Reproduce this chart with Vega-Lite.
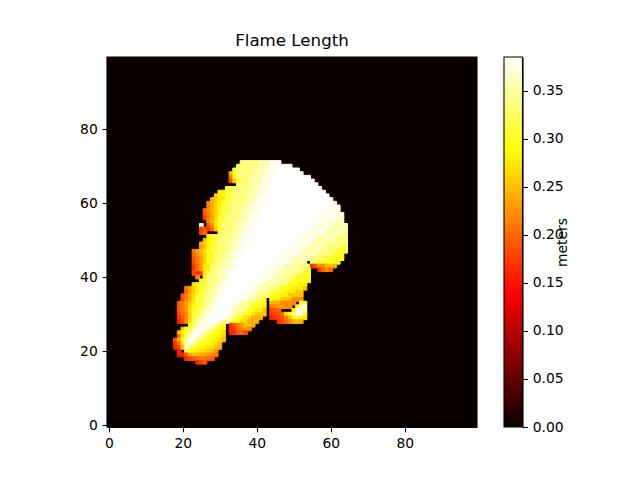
{"$schema":"https://vega.github.io/schema/vega-lite/v6.json","padding":{"left":79,"top":32,"right":0,"bottom":0},"background":"white","config":{"font":"DejaVu Sans","view":{"stroke":null},"axis":{"grid":false,"labelFontSize":13.89,"labelColor":"black","tickColor":"black","domainColor":"black","tickSize":4.86,"tickWidth":1.1,"domainWidth":1.1,"labelPadding":4.86,"titleColor":"black","titleFontWeight":"normal","titleFontSize":13.89}},"spacing":25,"hconcat":[{"width":370,"height":370,"title":{"text":"Flame Length","fontSize":16.67,"fontWeight":"normal","color":"black","offset":7},"layer":[{"data":{"values":[{"x":-0.5,"x2":99.5,"y":-0.5,"y2":99.5,"v":0}]},"mark":{"type":"rect"},"encoding":{"x":{"field":"x","type":"quantitative","scale":{"domain":[-0.5,99.5],"nice":false,"zero":false},"axis":{"values":[0,20,40,60,80],"title":null,"orient":"bottom"}},"x2":{"field":"x2"},"y":{"field":"y","type":"quantitative","scale":{"domain":[-0.5,99.5],"nice":false,"zero":false},"axis":{"values":[0,20,40,60,80],"title":null}},"y2":{"field":"y2"},"fill":{"field":"v","type":"quantitative","scale":{"domain":[0,0.1405,0.287,0.385],"range":["#0b0000","#ff0000","#ffff00","#ffffff"],"interpolate":"rgb"},"legend":null}}},{"data":{"values":[
{"x":35.5,"x2":40.5,"y":71,"v":0.335},{"x":40.5,"x2":43.5,"y":71,"v":0.355},{"x":43.5,"x2":46.5,"y":71,"v":0.375},
{"x":34.5,"x2":35.5,"y":70,"v":0.32},{"x":35.5,"x2":40.5,"y":70,"v":0.335},{"x":40.5,"x2":43.5,"y":70,"v":0.355},{"x":43.5,"x2":46.5,"y":70,"v":0.375},{"x":46.5,"x2":49.5,"y":70,"v":0.385},
{"x":33.5,"x2":34.5,"y":69,"v":0.31},{"x":34.5,"x2":39.5,"y":69,"v":0.335},{"x":39.5,"x2":42.5,"y":69,"v":0.355},{"x":42.5,"x2":45.5,"y":69,"v":0.375},{"x":45.5,"x2":51.5,"y":69,"v":0.385},
{"x":32.5,"x2":33.5,"y":68,"v":0.24},{"x":33.5,"x2":34.5,"y":68,"v":0.29},{"x":34.5,"x2":39.5,"y":68,"v":0.335},{"x":39.5,"x2":42.5,"y":68,"v":0.355},{"x":42.5,"x2":45.5,"y":68,"v":0.375},{"x":45.5,"x2":52.5,"y":68,"v":0.385},
{"x":32.5,"x2":33.5,"y":67,"v":0.21},{"x":33.5,"x2":34.5,"y":67,"v":0.28},{"x":34.5,"x2":38.5,"y":67,"v":0.335},{"x":38.5,"x2":41.5,"y":67,"v":0.355},{"x":41.5,"x2":44.5,"y":67,"v":0.375},{"x":44.5,"x2":54.5,"y":67,"v":0.385},
{"x":32.5,"x2":33.5,"y":66,"v":0.18},{"x":33.5,"x2":34.5,"y":66,"v":0.26},{"x":34.5,"x2":35.5,"y":66,"v":0.3},{"x":35.5,"x2":38.5,"y":66,"v":0.335},{"x":38.5,"x2":41.5,"y":66,"v":0.355},{"x":41.5,"x2":44.5,"y":66,"v":0.375},{"x":44.5,"x2":55.5,"y":66,"v":0.385},
{"x":34.5,"x2":38.5,"y":65,"v":0.335},{"x":38.5,"x2":41.5,"y":65,"v":0.355},{"x":41.5,"x2":43.5,"y":65,"v":0.375},{"x":43.5,"x2":56.5,"y":65,"v":0.385},
{"x":31.5,"x2":33.5,"y":64,"v":0.31},{"x":33.5,"x2":38.5,"y":64,"v":0.335},{"x":38.5,"x2":40.5,"y":64,"v":0.355},{"x":40.5,"x2":43.5,"y":64,"v":0.375},{"x":43.5,"x2":57.5,"y":64,"v":0.385},
{"x":29.5,"x2":31.5,"y":63,"v":0.28},{"x":31.5,"x2":33.5,"y":63,"v":0.31},{"x":33.5,"x2":37.5,"y":63,"v":0.335},{"x":37.5,"x2":40.5,"y":63,"v":0.355},{"x":40.5,"x2":43.5,"y":63,"v":0.375},{"x":43.5,"x2":58.5,"y":63,"v":0.385},
{"x":28.5,"x2":29.5,"y":62,"v":0.26},{"x":29.5,"x2":31.5,"y":62,"v":0.28},{"x":31.5,"x2":33.5,"y":62,"v":0.31},{"x":33.5,"x2":37.5,"y":62,"v":0.335},{"x":37.5,"x2":40.5,"y":62,"v":0.355},{"x":40.5,"x2":42.5,"y":62,"v":0.375},{"x":42.5,"x2":59.5,"y":62,"v":0.385},
{"x":27.5,"x2":28.5,"y":61,"v":0.24},{"x":28.5,"x2":29.5,"y":61,"v":0.26},{"x":29.5,"x2":31.5,"y":61,"v":0.28},{"x":31.5,"x2":33.5,"y":61,"v":0.31},{"x":33.5,"x2":37.5,"y":61,"v":0.335},{"x":37.5,"x2":39.5,"y":61,"v":0.355},{"x":39.5,"x2":42.5,"y":61,"v":0.375},{"x":42.5,"x2":60.5,"y":61,"v":0.385},
{"x":26.5,"x2":27.5,"y":60,"v":0.22},{"x":27.5,"x2":28.5,"y":60,"v":0.24},{"x":28.5,"x2":29.5,"y":60,"v":0.26},{"x":29.5,"x2":30.5,"y":60,"v":0.28},{"x":30.5,"x2":32.5,"y":60,"v":0.31},{"x":32.5,"x2":36.5,"y":60,"v":0.335},{"x":36.5,"x2":39.5,"y":60,"v":0.355},{"x":39.5,"x2":41.5,"y":60,"v":0.375},{"x":41.5,"x2":61.5,"y":60,"v":0.385},
{"x":26.5,"x2":27.5,"y":59,"v":0.21},{"x":27.5,"x2":28.5,"y":59,"v":0.24},{"x":28.5,"x2":29.5,"y":59,"v":0.26},{"x":29.5,"x2":30.5,"y":59,"v":0.28},{"x":30.5,"x2":32.5,"y":59,"v":0.31},{"x":32.5,"x2":36.5,"y":59,"v":0.335},{"x":36.5,"x2":38.5,"y":59,"v":0.355},{"x":38.5,"x2":41.5,"y":59,"v":0.375},{"x":41.5,"x2":60.5,"y":59,"v":0.385},{"x":60.5,"x2":62.5,"y":59,"v":0.375},
{"x":25.5,"x2":26.5,"y":58,"v":0.2},{"x":26.5,"x2":27.5,"y":58,"v":0.22},{"x":27.5,"x2":28.5,"y":58,"v":0.24},{"x":28.5,"x2":29.5,"y":58,"v":0.26},{"x":29.5,"x2":30.5,"y":58,"v":0.28},{"x":30.5,"x2":32.5,"y":58,"v":0.31},{"x":32.5,"x2":35.5,"y":58,"v":0.335},{"x":35.5,"x2":38.5,"y":58,"v":0.355},{"x":38.5,"x2":40.5,"y":58,"v":0.375},{"x":40.5,"x2":59.5,"y":58,"v":0.385},{"x":59.5,"x2":62.5,"y":58,"v":0.375},
{"x":25.5,"x2":26.5,"y":57,"v":0.19},{"x":26.5,"x2":27.5,"y":57,"v":0.21},{"x":27.5,"x2":28.5,"y":57,"v":0.24},{"x":28.5,"x2":29.5,"y":57,"v":0.26},{"x":29.5,"x2":30.5,"y":57,"v":0.28},{"x":30.5,"x2":31.5,"y":57,"v":0.31},{"x":31.5,"x2":35.5,"y":57,"v":0.335},{"x":35.5,"x2":37.5,"y":57,"v":0.355},{"x":37.5,"x2":40.5,"y":57,"v":0.375},{"x":40.5,"x2":58.5,"y":57,"v":0.385},{"x":58.5,"x2":63.5,"y":57,"v":0.375},
{"x":25.5,"x2":26.5,"y":56,"v":0.18},{"x":26.5,"x2":27.5,"y":56,"v":0.21},{"x":27.5,"x2":28.5,"y":56,"v":0.23},{"x":28.5,"x2":29.5,"y":56,"v":0.26},{"x":29.5,"x2":31.5,"y":56,"v":0.31},{"x":31.5,"x2":35.5,"y":56,"v":0.335},{"x":35.5,"x2":37.5,"y":56,"v":0.355},{"x":37.5,"x2":40.5,"y":56,"v":0.375},{"x":40.5,"x2":57.5,"y":56,"v":0.385},{"x":57.5,"x2":62.5,"y":56,"v":0.375},{"x":62.5,"x2":63.5,"y":56,"v":0.355},
{"x":26.5,"x2":27.5,"y":55,"v":0.22},{"x":27.5,"x2":28.5,"y":55,"v":0.24},{"x":28.5,"x2":29.5,"y":55,"v":0.27},{"x":29.5,"x2":31.5,"y":55,"v":0.31},{"x":31.5,"x2":34.5,"y":55,"v":0.335},{"x":34.5,"x2":37.5,"y":55,"v":0.355},{"x":37.5,"x2":39.5,"y":55,"v":0.375},{"x":39.5,"x2":56.5,"y":55,"v":0.385},{"x":56.5,"x2":61.5,"y":55,"v":0.375},{"x":61.5,"x2":63.5,"y":55,"v":0.355},
{"x":24.5,"x2":25.5,"y":54,"v":0.38},{"x":26.5,"x2":27.5,"y":54,"v":0.19},{"x":27.5,"x2":28.5,"y":54,"v":0.22},{"x":28.5,"x2":29.5,"y":54,"v":0.27},{"x":29.5,"x2":30.5,"y":54,"v":0.29},{"x":30.5,"x2":34.5,"y":54,"v":0.335},{"x":34.5,"x2":36.5,"y":54,"v":0.355},{"x":36.5,"x2":39.5,"y":54,"v":0.375},{"x":39.5,"x2":55.5,"y":54,"v":0.385},{"x":55.5,"x2":60.5,"y":54,"v":0.375},{"x":60.5,"x2":64.5,"y":54,"v":0.355},
{"x":24.5,"x2":25.5,"y":53,"v":0.17},{"x":25.5,"x2":26.5,"y":53,"v":0.19},{"x":26.5,"x2":27.5,"y":53,"v":0.17},{"x":27.5,"x2":28.5,"y":53,"v":0.2},{"x":28.5,"x2":29.5,"y":53,"v":0.26},{"x":29.5,"x2":30.5,"y":53,"v":0.29},{"x":30.5,"x2":34.5,"y":53,"v":0.335},{"x":34.5,"x2":36.5,"y":53,"v":0.355},{"x":36.5,"x2":38.5,"y":53,"v":0.375},{"x":38.5,"x2":54.5,"y":53,"v":0.385},{"x":54.5,"x2":59.5,"y":53,"v":0.375},{"x":59.5,"x2":64.5,"y":53,"v":0.355},
{"x":24.5,"x2":25.5,"y":52,"v":0.18},{"x":25.5,"x2":26.5,"y":52,"v":0.2},{"x":29.5,"x2":30.5,"y":52,"v":0.31},{"x":30.5,"x2":33.5,"y":52,"v":0.335},{"x":33.5,"x2":35.5,"y":52,"v":0.355},{"x":35.5,"x2":38.5,"y":52,"v":0.375},{"x":38.5,"x2":53.5,"y":52,"v":0.385},{"x":53.5,"x2":58.5,"y":52,"v":0.375},{"x":58.5,"x2":63.5,"y":52,"v":0.355},{"x":63.5,"x2":64.5,"y":52,"v":0.335},
{"x":26.5,"x2":27.5,"y":51,"v":0.29},{"x":27.5,"x2":28.5,"y":51,"v":0.3},{"x":28.5,"x2":30.5,"y":51,"v":0.32},{"x":30.5,"x2":33.5,"y":51,"v":0.335},{"x":33.5,"x2":35.5,"y":51,"v":0.355},{"x":35.5,"x2":37.5,"y":51,"v":0.375},{"x":37.5,"x2":52.5,"y":51,"v":0.385},{"x":52.5,"x2":56.5,"y":51,"v":0.375},{"x":56.5,"x2":62.5,"y":51,"v":0.355},{"x":62.5,"x2":64.5,"y":51,"v":0.335},
{"x":25.5,"x2":26.5,"y":50,"v":0.25},{"x":26.5,"x2":27.5,"y":50,"v":0.28},{"x":27.5,"x2":28.5,"y":50,"v":0.29},{"x":28.5,"x2":29.5,"y":50,"v":0.31},{"x":29.5,"x2":32.5,"y":50,"v":0.335},{"x":32.5,"x2":35.5,"y":50,"v":0.355},{"x":35.5,"x2":37.5,"y":50,"v":0.375},{"x":37.5,"x2":51.5,"y":50,"v":0.385},{"x":51.5,"x2":55.5,"y":50,"v":0.375},{"x":55.5,"x2":61.5,"y":50,"v":0.355},{"x":61.5,"x2":64.5,"y":50,"v":0.335},
{"x":24.5,"x2":25.5,"y":49,"v":0.24},{"x":25.5,"x2":26.5,"y":49,"v":0.26},{"x":26.5,"x2":27.5,"y":49,"v":0.28},{"x":27.5,"x2":29.5,"y":49,"v":0.31},{"x":29.5,"x2":32.5,"y":49,"v":0.335},{"x":32.5,"x2":34.5,"y":49,"v":0.355},{"x":34.5,"x2":36.5,"y":49,"v":0.375},{"x":36.5,"x2":50.5,"y":49,"v":0.385},{"x":50.5,"x2":54.5,"y":49,"v":0.375},{"x":54.5,"x2":59.5,"y":49,"v":0.355},{"x":59.5,"x2":64.5,"y":49,"v":0.335},
{"x":24.5,"x2":25.5,"y":48,"v":0.23},{"x":25.5,"x2":26.5,"y":48,"v":0.25},{"x":26.5,"x2":27.5,"y":48,"v":0.28},{"x":27.5,"x2":29.5,"y":48,"v":0.31},{"x":29.5,"x2":32.5,"y":48,"v":0.335},{"x":32.5,"x2":34.5,"y":48,"v":0.355},{"x":34.5,"x2":36.5,"y":48,"v":0.375},{"x":36.5,"x2":49.5,"y":48,"v":0.385},{"x":49.5,"x2":53.5,"y":48,"v":0.375},{"x":53.5,"x2":58.5,"y":48,"v":0.355},{"x":58.5,"x2":62.5,"y":48,"v":0.335},{"x":62.5,"x2":64.5,"y":48,"v":0.31},
{"x":22.5,"x2":23.5,"y":47,"v":0.21},{"x":23.5,"x2":24.5,"y":47,"v":0.23},{"x":24.5,"x2":25.5,"y":47,"v":0.25},{"x":25.5,"x2":26.5,"y":47,"v":0.27},{"x":26.5,"x2":27.5,"y":47,"v":0.29},{"x":27.5,"x2":29.5,"y":47,"v":0.31},{"x":29.5,"x2":32.5,"y":47,"v":0.335},{"x":32.5,"x2":34.5,"y":47,"v":0.355},{"x":34.5,"x2":36.5,"y":47,"v":0.375},{"x":36.5,"x2":48.5,"y":47,"v":0.385},{"x":48.5,"x2":52.5,"y":47,"v":0.375},{"x":52.5,"x2":57.5,"y":47,"v":0.355},{"x":57.5,"x2":61.5,"y":47,"v":0.335},{"x":61.5,"x2":64.5,"y":47,"v":0.31},
{"x":22.5,"x2":23.5,"y":46,"v":0.2},{"x":23.5,"x2":24.5,"y":46,"v":0.22},{"x":24.5,"x2":25.5,"y":46,"v":0.24},{"x":25.5,"x2":26.5,"y":46,"v":0.26},{"x":26.5,"x2":28.5,"y":46,"v":0.3},{"x":28.5,"x2":31.5,"y":46,"v":0.335},{"x":31.5,"x2":33.5,"y":46,"v":0.355},{"x":33.5,"x2":35.5,"y":46,"v":0.375},{"x":35.5,"x2":47.5,"y":46,"v":0.385},{"x":47.5,"x2":51.5,"y":46,"v":0.375},{"x":51.5,"x2":56.5,"y":46,"v":0.355},{"x":56.5,"x2":60.5,"y":46,"v":0.335},{"x":60.5,"x2":63.5,"y":46,"v":0.3},
{"x":22.5,"x2":23.5,"y":45,"v":0.19},{"x":23.5,"x2":24.5,"y":45,"v":0.21},{"x":24.5,"x2":25.5,"y":45,"v":0.23},{"x":25.5,"x2":26.5,"y":45,"v":0.26},{"x":26.5,"x2":28.5,"y":45,"v":0.3},{"x":28.5,"x2":31.5,"y":45,"v":0.335},{"x":31.5,"x2":33.5,"y":45,"v":0.355},{"x":33.5,"x2":35.5,"y":45,"v":0.375},{"x":35.5,"x2":46.5,"y":45,"v":0.385},{"x":46.5,"x2":50.5,"y":45,"v":0.375},{"x":50.5,"x2":54.5,"y":45,"v":0.355},{"x":54.5,"x2":58.5,"y":45,"v":0.335},{"x":58.5,"x2":63.5,"y":45,"v":0.3},
{"x":22.5,"x2":23.5,"y":44,"v":0.18},{"x":23.5,"x2":24.5,"y":44,"v":0.21},{"x":24.5,"x2":25.5,"y":44,"v":0.23},{"x":25.5,"x2":26.5,"y":44,"v":0.26},{"x":26.5,"x2":28.5,"y":44,"v":0.3},{"x":28.5,"x2":30.5,"y":44,"v":0.335},{"x":30.5,"x2":32.5,"y":44,"v":0.355},{"x":32.5,"x2":34.5,"y":44,"v":0.375},{"x":34.5,"x2":45.5,"y":44,"v":0.385},{"x":45.5,"x2":49.5,"y":44,"v":0.375},{"x":49.5,"x2":53.5,"y":44,"v":0.355},{"x":54.5,"x2":56.5,"y":44,"v":0.335},{"x":56.5,"x2":61.5,"y":44,"v":0.3},{"x":61.5,"x2":62.5,"y":44,"v":0.28},
{"x":22.5,"x2":23.5,"y":43,"v":0.17},{"x":23.5,"x2":24.5,"y":43,"v":0.2},{"x":24.5,"x2":25.5,"y":43,"v":0.23},{"x":25.5,"x2":27.5,"y":43,"v":0.28},{"x":27.5,"x2":30.5,"y":43,"v":0.335},{"x":30.5,"x2":32.5,"y":43,"v":0.355},{"x":32.5,"x2":34.5,"y":43,"v":0.375},{"x":34.5,"x2":44.5,"y":43,"v":0.385},{"x":44.5,"x2":47.5,"y":43,"v":0.375},{"x":47.5,"x2":51.5,"y":43,"v":0.355},{"x":51.5,"x2":54.5,"y":43,"v":0.335},{"x":54.5,"x2":55.5,"y":43,"v":0.17},{"x":55.5,"x2":56.5,"y":43,"v":0.19},{"x":56.5,"x2":58.5,"y":43,"v":0.22},{"x":58.5,"x2":60.5,"y":43,"v":0.25},{"x":60.5,"x2":61.5,"y":43,"v":0.24},
{"x":22.5,"x2":23.5,"y":42,"v":0.17},{"x":23.5,"x2":24.5,"y":42,"v":0.2},{"x":24.5,"x2":25.5,"y":42,"v":0.23},{"x":25.5,"x2":27.5,"y":42,"v":0.28},{"x":27.5,"x2":29.5,"y":42,"v":0.335},{"x":29.5,"x2":31.5,"y":42,"v":0.355},{"x":31.5,"x2":33.5,"y":42,"v":0.375},{"x":33.5,"x2":43.5,"y":42,"v":0.385},{"x":43.5,"x2":46.5,"y":42,"v":0.375},{"x":46.5,"x2":50.5,"y":42,"v":0.355},{"x":50.5,"x2":53.5,"y":42,"v":0.335},{"x":53.5,"x2":54.5,"y":42,"v":0.3},{"x":56.5,"x2":57.5,"y":42,"v":0.17},{"x":57.5,"x2":58.5,"y":42,"v":0.2},{"x":58.5,"x2":59.5,"y":42,"v":0.22},{"x":59.5,"x2":60.5,"y":42,"v":0.2},
{"x":22.5,"x2":23.5,"y":41,"v":0.18},{"x":23.5,"x2":25.5,"y":41,"v":0.17},{"x":25.5,"x2":26.5,"y":41,"v":0.28},{"x":26.5,"x2":27.5,"y":41,"v":0.31},{"x":27.5,"x2":29.5,"y":41,"v":0.335},{"x":29.5,"x2":31.5,"y":41,"v":0.355},{"x":31.5,"x2":33.5,"y":41,"v":0.375},{"x":33.5,"x2":42.5,"y":41,"v":0.385},{"x":42.5,"x2":45.5,"y":41,"v":0.375},{"x":45.5,"x2":49.5,"y":41,"v":0.355},{"x":49.5,"x2":52.5,"y":41,"v":0.335},{"x":52.5,"x2":54.5,"y":41,"v":0.3},
{"x":23.5,"x2":24.5,"y":40,"v":0.22},{"x":25.5,"x2":26.5,"y":40,"v":0.28},{"x":26.5,"x2":29.5,"y":40,"v":0.335},{"x":29.5,"x2":31.5,"y":40,"v":0.355},{"x":31.5,"x2":33.5,"y":40,"v":0.375},{"x":33.5,"x2":41.5,"y":40,"v":0.385},{"x":41.5,"x2":44.5,"y":40,"v":0.375},{"x":44.5,"x2":47.5,"y":40,"v":0.355},{"x":47.5,"x2":50.5,"y":40,"v":0.335},{"x":50.5,"x2":54.5,"y":40,"v":0.3},
{"x":24.5,"x2":25.5,"y":39,"v":0.29},{"x":25.5,"x2":26.5,"y":39,"v":0.31},{"x":26.5,"x2":29.5,"y":39,"v":0.335},{"x":29.5,"x2":30.5,"y":39,"v":0.355},{"x":30.5,"x2":32.5,"y":39,"v":0.375},{"x":32.5,"x2":40.5,"y":39,"v":0.385},{"x":40.5,"x2":43.5,"y":39,"v":0.375},{"x":43.5,"x2":46.5,"y":39,"v":0.355},{"x":46.5,"x2":49.5,"y":39,"v":0.335},{"x":49.5,"x2":53.5,"y":39,"v":0.3},{"x":53.5,"x2":54.5,"y":39,"v":0.28},
{"x":22.5,"x2":23.5,"y":38,"v":0.27},{"x":23.5,"x2":24.5,"y":38,"v":0.29},{"x":24.5,"x2":26.5,"y":38,"v":0.31},{"x":26.5,"x2":28.5,"y":38,"v":0.335},{"x":28.5,"x2":30.5,"y":38,"v":0.355},{"x":30.5,"x2":32.5,"y":38,"v":0.375},{"x":32.5,"x2":39.5,"y":38,"v":0.385},{"x":39.5,"x2":41.5,"y":38,"v":0.375},{"x":41.5,"x2":45.5,"y":38,"v":0.355},{"x":45.5,"x2":48.5,"y":38,"v":0.335},{"x":48.5,"x2":51.5,"y":38,"v":0.3},{"x":51.5,"x2":53.5,"y":38,"v":0.28},
{"x":20.5,"x2":21.5,"y":37,"v":0.21},{"x":21.5,"x2":22.5,"y":37,"v":0.23},{"x":22.5,"x2":23.5,"y":37,"v":0.26},{"x":23.5,"x2":24.5,"y":37,"v":0.28},{"x":24.5,"x2":26.5,"y":37,"v":0.31},{"x":26.5,"x2":28.5,"y":37,"v":0.335},{"x":28.5,"x2":29.5,"y":37,"v":0.355},{"x":29.5,"x2":31.5,"y":37,"v":0.375},{"x":31.5,"x2":38.5,"y":37,"v":0.385},{"x":38.5,"x2":40.5,"y":37,"v":0.375},{"x":40.5,"x2":43.5,"y":37,"v":0.355},{"x":43.5,"x2":46.5,"y":37,"v":0.335},{"x":46.5,"x2":49.5,"y":37,"v":0.3},{"x":49.5,"x2":52.5,"y":37,"v":0.28},{"x":52.5,"x2":53.5,"y":37,"v":0.255},
{"x":20.5,"x2":21.5,"y":36,"v":0.2},{"x":21.5,"x2":22.5,"y":36,"v":0.23},{"x":22.5,"x2":23.5,"y":36,"v":0.26},{"x":23.5,"x2":24.5,"y":36,"v":0.28},{"x":24.5,"x2":26.5,"y":36,"v":0.31},{"x":26.5,"x2":27.5,"y":36,"v":0.335},{"x":27.5,"x2":29.5,"y":36,"v":0.355},{"x":29.5,"x2":31.5,"y":36,"v":0.375},{"x":31.5,"x2":37.5,"y":36,"v":0.385},{"x":37.5,"x2":39.5,"y":36,"v":0.375},{"x":39.5,"x2":42.5,"y":36,"v":0.355},{"x":42.5,"x2":44.5,"y":36,"v":0.335},{"x":44.5,"x2":47.5,"y":36,"v":0.3},{"x":47.5,"x2":50.5,"y":36,"v":0.28},{"x":50.5,"x2":52.5,"y":36,"v":0.255},
{"x":19.5,"x2":20.5,"y":35,"v":0.19},{"x":20.5,"x2":21.5,"y":35,"v":0.21},{"x":21.5,"x2":22.5,"y":35,"v":0.24},{"x":22.5,"x2":23.5,"y":35,"v":0.27},{"x":23.5,"x2":25.5,"y":35,"v":0.31},{"x":25.5,"x2":27.5,"y":35,"v":0.335},{"x":27.5,"x2":29.5,"y":35,"v":0.355},{"x":29.5,"x2":30.5,"y":35,"v":0.375},{"x":30.5,"x2":36.5,"y":35,"v":0.385},{"x":36.5,"x2":38.5,"y":35,"v":0.375},{"x":38.5,"x2":40.5,"y":35,"v":0.355},{"x":40.5,"x2":43.5,"y":35,"v":0.335},{"x":43.5,"x2":46.5,"y":35,"v":0.3},{"x":46.5,"x2":48.5,"y":35,"v":0.28},{"x":48.5,"x2":52.5,"y":35,"v":0.255},
{"x":19.5,"x2":20.5,"y":34,"v":0.18},{"x":20.5,"x2":21.5,"y":34,"v":0.21},{"x":21.5,"x2":22.5,"y":34,"v":0.24},{"x":22.5,"x2":23.5,"y":34,"v":0.27},{"x":23.5,"x2":25.5,"y":34,"v":0.31},{"x":25.5,"x2":27.5,"y":34,"v":0.335},{"x":27.5,"x2":28.5,"y":34,"v":0.355},{"x":28.5,"x2":30.5,"y":34,"v":0.375},{"x":30.5,"x2":35.5,"y":34,"v":0.385},{"x":35.5,"x2":37.5,"y":34,"v":0.375},{"x":37.5,"x2":39.5,"y":34,"v":0.355},{"x":39.5,"x2":41.5,"y":34,"v":0.335},{"x":41.5,"x2":42.5,"y":34,"v":0.3},{"x":43.5,"x2":44.5,"y":34,"v":0.3},{"x":44.5,"x2":46.5,"y":34,"v":0.28},{"x":46.5,"x2":49.5,"y":34,"v":0.255},{"x":49.5,"x2":52.5,"y":34,"v":0.22},
{"x":18.5,"x2":19.5,"y":33,"v":0.19},{"x":19.5,"x2":20.5,"y":33,"v":0.21},{"x":20.5,"x2":21.5,"y":33,"v":0.23},{"x":21.5,"x2":22.5,"y":33,"v":0.25},{"x":22.5,"x2":23.5,"y":33,"v":0.28},{"x":23.5,"x2":25.5,"y":33,"v":0.31},{"x":25.5,"x2":26.5,"y":33,"v":0.335},{"x":26.5,"x2":28.5,"y":33,"v":0.355},{"x":28.5,"x2":29.5,"y":33,"v":0.375},{"x":29.5,"x2":34.5,"y":33,"v":0.385},{"x":34.5,"x2":35.5,"y":33,"v":0.375},{"x":35.5,"x2":37.5,"y":33,"v":0.355},{"x":37.5,"x2":39.5,"y":33,"v":0.335},{"x":39.5,"x2":42.5,"y":33,"v":0.3},{"x":43.5,"x2":44.5,"y":33,"v":0.25},{"x":44.5,"x2":46.5,"y":33,"v":0.24},{"x":46.5,"x2":50.5,"y":33,"v":0.22},{"x":51.5,"x2":53.5,"y":33,"v":0.3},
{"x":18.5,"x2":19.5,"y":32,"v":0.19},{"x":19.5,"x2":20.5,"y":32,"v":0.21},{"x":20.5,"x2":21.5,"y":32,"v":0.23},{"x":21.5,"x2":22.5,"y":32,"v":0.26},{"x":22.5,"x2":23.5,"y":32,"v":0.29},{"x":23.5,"x2":25.5,"y":32,"v":0.31},{"x":25.5,"x2":26.5,"y":32,"v":0.335},{"x":26.5,"x2":27.5,"y":32,"v":0.355},{"x":27.5,"x2":29.5,"y":32,"v":0.375},{"x":29.5,"x2":33.5,"y":32,"v":0.385},{"x":33.5,"x2":34.5,"y":32,"v":0.375},{"x":34.5,"x2":36.5,"y":32,"v":0.355},{"x":36.5,"x2":38.5,"y":32,"v":0.335},{"x":38.5,"x2":41.5,"y":32,"v":0.3},{"x":41.5,"x2":42.5,"y":32,"v":0.28},{"x":43.5,"x2":44.5,"y":32,"v":0.21},{"x":44.5,"x2":45.5,"y":32,"v":0.22},{"x":45.5,"x2":47.5,"y":32,"v":0.23},{"x":47.5,"x2":49.5,"y":32,"v":0.22},{"x":50.5,"x2":51.5,"y":32,"v":0.3},{"x":51.5,"x2":53.5,"y":32,"v":0.36},
{"x":18.5,"x2":19.5,"y":31,"v":0.19},{"x":19.5,"x2":20.5,"y":31,"v":0.21},{"x":20.5,"x2":21.5,"y":31,"v":0.23},{"x":21.5,"x2":22.5,"y":31,"v":0.27},{"x":22.5,"x2":24.5,"y":31,"v":0.31},{"x":24.5,"x2":25.5,"y":31,"v":0.335},{"x":25.5,"x2":27.5,"y":31,"v":0.355},{"x":27.5,"x2":28.5,"y":31,"v":0.375},{"x":28.5,"x2":32.5,"y":31,"v":0.385},{"x":32.5,"x2":33.5,"y":31,"v":0.375},{"x":33.5,"x2":35.5,"y":31,"v":0.355},{"x":35.5,"x2":37.5,"y":31,"v":0.335},{"x":37.5,"x2":39.5,"y":31,"v":0.3},{"x":39.5,"x2":41.5,"y":31,"v":0.28},{"x":41.5,"x2":42.5,"y":31,"v":0.255},{"x":43.5,"x2":44.5,"y":31,"v":0.18},{"x":44.5,"x2":45.5,"y":31,"v":0.19},{"x":45.5,"x2":46.5,"y":31,"v":0.2},{"x":49.5,"x2":50.5,"y":31,"v":0.28},{"x":50.5,"x2":53.5,"y":31,"v":0.37},
{"x":18.5,"x2":19.5,"y":30,"v":0.18},{"x":19.5,"x2":20.5,"y":30,"v":0.2},{"x":20.5,"x2":21.5,"y":30,"v":0.22},{"x":21.5,"x2":22.5,"y":30,"v":0.26},{"x":22.5,"x2":24.5,"y":30,"v":0.31},{"x":24.5,"x2":25.5,"y":30,"v":0.335},{"x":25.5,"x2":26.5,"y":30,"v":0.355},{"x":26.5,"x2":28.5,"y":30,"v":0.375},{"x":28.5,"x2":31.5,"y":30,"v":0.385},{"x":31.5,"x2":33.5,"y":30,"v":0.375},{"x":33.5,"x2":34.5,"y":30,"v":0.355},{"x":34.5,"x2":36.5,"y":30,"v":0.335},{"x":36.5,"x2":38.5,"y":30,"v":0.3},{"x":38.5,"x2":39.5,"y":30,"v":0.28},{"x":39.5,"x2":42.5,"y":30,"v":0.255},{"x":43.5,"x2":44.5,"y":30,"v":0.17},{"x":44.5,"x2":45.5,"y":30,"v":0.18},{"x":45.5,"x2":46.5,"y":30,"v":0.19},{"x":46.5,"x2":47.5,"y":30,"v":0.2},{"x":47.5,"x2":48.5,"y":30,"v":0.27},{"x":48.5,"x2":49.5,"y":30,"v":0.3},{"x":49.5,"x2":50.5,"y":30,"v":0.34},{"x":50.5,"x2":52.5,"y":30,"v":0.38},{"x":52.5,"x2":53.5,"y":30,"v":0.3},
{"x":18.5,"x2":19.5,"y":29,"v":0.17},{"x":19.5,"x2":20.5,"y":29,"v":0.19},{"x":20.5,"x2":21.5,"y":29,"v":0.22},{"x":21.5,"x2":22.5,"y":29,"v":0.26},{"x":22.5,"x2":23.5,"y":29,"v":0.31},{"x":23.5,"x2":24.5,"y":29,"v":0.335},{"x":24.5,"x2":25.5,"y":29,"v":0.355},{"x":25.5,"x2":27.5,"y":29,"v":0.375},{"x":27.5,"x2":30.5,"y":29,"v":0.385},{"x":30.5,"x2":32.5,"y":29,"v":0.375},{"x":32.5,"x2":33.5,"y":29,"v":0.355},{"x":33.5,"x2":34.5,"y":29,"v":0.335},{"x":34.5,"x2":36.5,"y":29,"v":0.3},{"x":36.5,"x2":38.5,"y":29,"v":0.27},{"x":38.5,"x2":41.5,"y":29,"v":0.24},{"x":43.5,"x2":44.5,"y":29,"v":0.16},{"x":44.5,"x2":45.5,"y":29,"v":0.17},{"x":45.5,"x2":46.5,"y":29,"v":0.18},{"x":46.5,"x2":47.5,"y":29,"v":0.19},{"x":47.5,"x2":48.5,"y":29,"v":0.21},{"x":48.5,"x2":49.5,"y":29,"v":0.25},{"x":49.5,"x2":50.5,"y":29,"v":0.29},{"x":50.5,"x2":52.5,"y":29,"v":0.3},{"x":52.5,"x2":53.5,"y":29,"v":0.28},
{"x":18.5,"x2":19.5,"y":28,"v":0.16},{"x":19.5,"x2":20.5,"y":28,"v":0.18},{"x":20.5,"x2":21.5,"y":28,"v":0.22},{"x":21.5,"x2":22.5,"y":28,"v":0.27},{"x":22.5,"x2":23.5,"y":28,"v":0.32},{"x":23.5,"x2":24.5,"y":28,"v":0.34},{"x":24.5,"x2":26.5,"y":28,"v":0.37},{"x":26.5,"x2":29.5,"y":28,"v":0.385},{"x":29.5,"x2":30.5,"y":28,"v":0.375},{"x":30.5,"x2":32.5,"y":28,"v":0.355},{"x":32.5,"x2":33.5,"y":28,"v":0.335},{"x":33.5,"x2":35.5,"y":28,"v":0.3},{"x":35.5,"x2":37.5,"y":28,"v":0.27},{"x":37.5,"x2":40.5,"y":28,"v":0.24},{"x":45.5,"x2":46.5,"y":28,"v":0.17},{"x":46.5,"x2":47.5,"y":28,"v":0.18},{"x":47.5,"x2":48.5,"y":28,"v":0.2},{"x":48.5,"x2":49.5,"y":28,"v":0.22},{"x":49.5,"x2":50.5,"y":28,"v":0.24},{"x":50.5,"x2":51.5,"y":28,"v":0.25},{"x":51.5,"x2":52.5,"y":28,"v":0.24},
{"x":21.5,"x2":22.5,"y":27,"v":0.3},{"x":22.5,"x2":23.5,"y":27,"v":0.32},{"x":23.5,"x2":24.5,"y":27,"v":0.35},{"x":24.5,"x2":26.5,"y":27,"v":0.37},{"x":26.5,"x2":27.5,"y":27,"v":0.385},{"x":27.5,"x2":28.5,"y":27,"v":0.37},{"x":28.5,"x2":29.5,"y":27,"v":0.35},{"x":29.5,"x2":30.5,"y":27,"v":0.33},{"x":30.5,"x2":31.5,"y":27,"v":0.3},{"x":32.5,"x2":33.5,"y":27,"v":0.17},{"x":33.5,"x2":34.5,"y":27,"v":0.19},{"x":34.5,"x2":35.5,"y":27,"v":0.21},{"x":35.5,"x2":36.5,"y":27,"v":0.23},{"x":36.5,"x2":38.5,"y":27,"v":0.25},{"x":38.5,"x2":39.5,"y":27,"v":0.24},
{"x":19.5,"x2":20.5,"y":26,"v":0.25},{"x":20.5,"x2":21.5,"y":26,"v":0.29},{"x":21.5,"x2":22.5,"y":26,"v":0.32},{"x":22.5,"x2":23.5,"y":26,"v":0.35},{"x":23.5,"x2":25.5,"y":26,"v":0.38},{"x":25.5,"x2":26.5,"y":26,"v":0.385},{"x":26.5,"x2":27.5,"y":26,"v":0.36},{"x":27.5,"x2":28.5,"y":26,"v":0.34},{"x":28.5,"x2":29.5,"y":26,"v":0.32},{"x":29.5,"x2":30.5,"y":26,"v":0.3},{"x":30.5,"x2":31.5,"y":26,"v":0.28},{"x":32.5,"x2":33.5,"y":26,"v":0.16},{"x":33.5,"x2":34.5,"y":26,"v":0.18},{"x":34.5,"x2":35.5,"y":26,"v":0.2},{"x":35.5,"x2":36.5,"y":26,"v":0.22},{"x":36.5,"x2":37.5,"y":26,"v":0.23},{"x":37.5,"x2":38.5,"y":26,"v":0.22},
{"x":18.5,"x2":19.5,"y":25,"v":0.24},{"x":19.5,"x2":20.5,"y":25,"v":0.28},{"x":20.5,"x2":21.5,"y":25,"v":0.31},{"x":21.5,"x2":22.5,"y":25,"v":0.34},{"x":22.5,"x2":23.5,"y":25,"v":0.37},{"x":23.5,"x2":25.5,"y":25,"v":0.385},{"x":25.5,"x2":26.5,"y":25,"v":0.36},{"x":26.5,"x2":27.5,"y":25,"v":0.33},{"x":27.5,"x2":28.5,"y":25,"v":0.31},{"x":28.5,"x2":29.5,"y":25,"v":0.3},{"x":29.5,"x2":30.5,"y":25,"v":0.29},{"x":30.5,"x2":31.5,"y":25,"v":0.27},{"x":32.5,"x2":33.5,"y":25,"v":0.16},{"x":33.5,"x2":34.5,"y":25,"v":0.17},{"x":34.5,"x2":35.5,"y":25,"v":0.19},{"x":35.5,"x2":36.5,"y":25,"v":0.2},{"x":36.5,"x2":37.5,"y":25,"v":0.18},
{"x":18.5,"x2":19.5,"y":24,"v":0.2},{"x":19.5,"x2":20.5,"y":24,"v":0.27},{"x":20.5,"x2":21.5,"y":24,"v":0.32},{"x":21.5,"x2":22.5,"y":24,"v":0.36},{"x":22.5,"x2":24.5,"y":24,"v":0.385},{"x":24.5,"x2":25.5,"y":24,"v":0.35},{"x":25.5,"x2":26.5,"y":24,"v":0.33},{"x":26.5,"x2":27.5,"y":24,"v":0.31},{"x":27.5,"x2":28.5,"y":24,"v":0.3},{"x":28.5,"x2":29.5,"y":24,"v":0.29},{"x":29.5,"x2":30.5,"y":24,"v":0.28},{"x":30.5,"x2":31.5,"y":24,"v":0.26},
{"x":17.5,"x2":18.5,"y":23,"v":0.19},{"x":18.5,"x2":19.5,"y":23,"v":0.24},{"x":19.5,"x2":20.5,"y":23,"v":0.29},{"x":20.5,"x2":21.5,"y":23,"v":0.35},{"x":21.5,"x2":23.5,"y":23,"v":0.385},{"x":23.5,"x2":24.5,"y":23,"v":0.34},{"x":24.5,"x2":25.5,"y":23,"v":0.32},{"x":25.5,"x2":26.5,"y":23,"v":0.31},{"x":26.5,"x2":27.5,"y":23,"v":0.3},{"x":27.5,"x2":28.5,"y":23,"v":0.29},{"x":28.5,"x2":29.5,"y":23,"v":0.28},{"x":29.5,"x2":30.5,"y":23,"v":0.27},{"x":30.5,"x2":31.5,"y":23,"v":0.25},
{"x":17.5,"x2":18.5,"y":22,"v":0.17},{"x":18.5,"x2":19.5,"y":22,"v":0.2},{"x":19.5,"x2":20.5,"y":22,"v":0.27},{"x":20.5,"x2":21.5,"y":22,"v":0.35},{"x":21.5,"x2":22.5,"y":22,"v":0.385},{"x":22.5,"x2":23.5,"y":22,"v":0.35},{"x":23.5,"x2":24.5,"y":22,"v":0.32},{"x":24.5,"x2":25.5,"y":22,"v":0.31},{"x":25.5,"x2":26.5,"y":22,"v":0.3},{"x":26.5,"x2":27.5,"y":22,"v":0.29},{"x":27.5,"x2":28.5,"y":22,"v":0.28},{"x":28.5,"x2":29.5,"y":22,"v":0.27},{"x":29.5,"x2":30.5,"y":22,"v":0.25},
{"x":17.5,"x2":18.5,"y":21,"v":0.16},{"x":18.5,"x2":19.5,"y":21,"v":0.18},{"x":19.5,"x2":20.5,"y":21,"v":0.25},{"x":20.5,"x2":21.5,"y":21,"v":0.385},{"x":21.5,"x2":22.5,"y":21,"v":0.33},{"x":22.5,"x2":23.5,"y":21,"v":0.31},{"x":23.5,"x2":24.5,"y":21,"v":0.3},{"x":24.5,"x2":25.5,"y":21,"v":0.29},{"x":25.5,"x2":26.5,"y":21,"v":0.28},{"x":26.5,"x2":28.5,"y":21,"v":0.27},{"x":28.5,"x2":29.5,"y":21,"v":0.26},{"x":29.5,"x2":30.5,"y":21,"v":0.24},
{"x":18.5,"x2":19.5,"y":20,"v":0.16},{"x":20.5,"x2":22.5,"y":20,"v":0.3},{"x":22.5,"x2":23.5,"y":20,"v":0.29},{"x":23.5,"x2":24.5,"y":20,"v":0.28},{"x":24.5,"x2":26.5,"y":20,"v":0.27},{"x":26.5,"x2":27.5,"y":20,"v":0.26},{"x":27.5,"x2":28.5,"y":20,"v":0.25},{"x":28.5,"x2":29.5,"y":20,"v":0.23},
{"x":18.5,"x2":19.5,"y":19,"v":0.15},{"x":19.5,"x2":20.5,"y":19,"v":0.16},{"x":20.5,"x2":21.5,"y":19,"v":0.19},{"x":21.5,"x2":22.5,"y":19,"v":0.24},{"x":22.5,"x2":24.5,"y":19,"v":0.25},{"x":24.5,"x2":26.5,"y":19,"v":0.24},{"x":26.5,"x2":27.5,"y":19,"v":0.23},{"x":27.5,"x2":28.5,"y":19,"v":0.22},{"x":28.5,"x2":29.5,"y":19,"v":0.21},
{"x":20.5,"x2":21.5,"y":18,"v":0.17},{"x":21.5,"x2":22.5,"y":18,"v":0.18},{"x":22.5,"x2":23.5,"y":18,"v":0.19},{"x":23.5,"x2":24.5,"y":18,"v":0.2},{"x":24.5,"x2":26.5,"y":18,"v":0.21},{"x":26.5,"x2":27.5,"y":18,"v":0.2},{"x":27.5,"x2":28.5,"y":18,"v":0.19},
{"x":23.5,"x2":24.5,"y":17,"v":0.16},{"x":24.5,"x2":25.5,"y":17,"v":0.18},{"x":25.5,"x2":26.5,"y":17,"v":0.19}
]},"mark":{"type":"rect","height":3.7,"strokeWidth":1},"encoding":{"x":{"field":"x","type":"quantitative"},"x2":{"field":"x2"},"y":{"field":"y","type":"quantitative"},"fill":{"field":"v","type":"quantitative"},"stroke":{"field":"v","type":"quantitative","scale":{"domain":[0,0.1405,0.287,0.385],"range":["#0b0000","#ff0000","#ffff00","#ffffff"],"interpolate":"rgb"},"legend":null}}},{"data":{"values":[{"x":-0.5,"x2":99.5,"y":-0.5,"y2":99.5}]},"mark":{"type":"rect","fillOpacity":0,"stroke":"black","strokeWidth":1.1},"encoding":{"x":{"field":"x","type":"quantitative"},"x2":{"field":"x2"},"y":{"field":"y","type":"quantitative"},"y2":{"field":"y2"}}}]},{"width":18.5,"height":370,"data":{"values":[{"lo":0,"hi":0.385}]},"mark":{"type":"rect","stroke":"black","strokeWidth":1.1,"fill":{"gradient":"linear","x1":0,"y1":1,"x2":0,"y2":0,"stops":[{"offset":0,"color":"#0b0000"},{"offset":0.365,"color":"#ff0000"},{"offset":0.746,"color":"#ffff00"},{"offset":1,"color":"#ffffff"}]}},"encoding":{"y":{"field":"lo","type":"quantitative","scale":{"domain":[0,0.385],"nice":false,"zero":false},"axis":{"orient":"right","values":[0,0.05,0.1,0.15,0.2,0.25,0.3,0.35],"format":".2f","title":"meters","titleAngle":-90,"titlePadding":6}},"y2":{"field":"hi"}}}]}
